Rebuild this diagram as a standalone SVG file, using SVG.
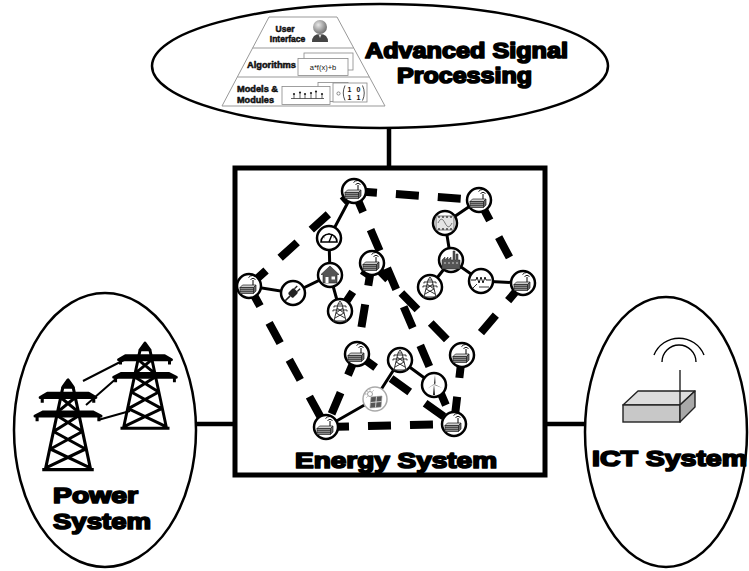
<svg xmlns="http://www.w3.org/2000/svg" width="749" height="571" viewBox="0 0 749 571">
  <style>
    .big { font-family: "Liberation Sans", Arial, sans-serif; font-weight: bold; font-size: 22px; fill: #000; stroke: #000; stroke-width: 1.7; stroke-linejoin: round; }
    .sm { font-family: "Liberation Sans", Arial, sans-serif; font-weight: bold; font-size: 8.5px; fill: #111; stroke: #111; stroke-width: 0.5; stroke-linejoin: round; }
    .frame { fill: #fff; stroke: #000; stroke-width: 2.5; }
    .link { stroke: #000; stroke-width: 4.5; fill: none; }
    .ict { stroke: #000; stroke-width: 8; stroke-dasharray: 23 19; fill: none; }
    .pwr { stroke: #000; stroke-width: 3; fill: none; }
    .nd { fill: #fff; stroke: #000; stroke-width: 2.5; }
    .card { fill: #fff; stroke: #888; stroke-width: 0.8; }
    .ic { fill: none; stroke: #333; stroke-width: 1; }
  </style>
  <defs>
    <radialGradient id="headGrad" cx="0.38" cy="0.35" r="0.7">
      <stop offset="0" stop-color="#e8e8e8"/>
      <stop offset="1" stop-color="#6a6a6a"/>
    </radialGradient>
    <!-- large lattice pylon, peak at origin -->
    <g id="pylon" fill="#000" stroke="#000" stroke-width="3" stroke-linejoin="round">
      <path d="M0 0 L-5 7 L5 7 Z"/>
      <path d="M-20 13 L20 13 L27 17 L-27 17 Z"/>
      <path d="M-24 31 L24 31 L32 35 L-32 35 Z"/>
      <path fill="none" d="M-5 7 L-22 87 M5 7 L22 87 M-25 87 H25
        M-7 17 L10 31 M7 17 L-10 31
        M-10 35 L14 50 M10 35 L-14 50
        M-14 50 L17 67 M14 50 L-17 67
        M-17 67 L21 85 M17 67 L-21 85
        M-25 17 v5 M25 17 v5 M-30 35 v5 M30 35 v5"/>
    </g>
    <!-- node icons, centred on origin -->
    <g id="router">
      <circle r="12" class="nd"/>
      <path d="M-9 1.5 L-6.5 -1 L7 -1 L4.5 1.5 Z" fill="#ccc" stroke="#222" stroke-width="0.7"/>
      <rect x="-9" y="1.5" width="13.5" height="6" fill="#8a8a8a" stroke="#222" stroke-width="0.7"/>
      <path d="M4.5 1.5 L7 -1 V5 L4.5 7.5 Z" fill="#666" stroke="#222" stroke-width="0.7"/>
      <path d="M-9 3.5 H4.5 M-9 5.5 H4.5" stroke="#222" stroke-width="0.6"/>
      <path d="M4 -1 V-6" stroke="#000" stroke-width="1"/>
      <path d="M1.5 -6.5 A3.5 3.5 0 0 1 6.5 -6.5 M-0.5 -8.5 A6 6 0 0 1 8.5 -8.5" fill="none" stroke="#000" stroke-width="0.9"/>
    </g>
    <g id="tower">
      <circle r="12" class="nd"/>
      <path class="ic" d="M0 -10 L-2 -7 H2 Z M-6 -5 H6 M-7 -1 H7 M-6 -5 v1.5 M6 -5 v1.5 M-7 -1 v1.5 M7 -1 v1.5
        M-2 -7 L-6 10 M2 -7 L6 10 M-3 -3 L4 2 M3 -3 L-4 2 M-4 2 L5 7 M4 2 L-5 7 M-7 10 H7"/>
    </g>
    <g id="gauge">
      <circle r="12" class="nd"/>
      <path d="M-8 4 A8 8 0 0 1 8 4 Z" fill="#fff" stroke="#000" stroke-width="1.6"/>
      <path d="M-5.5 -1 l1 0.8 M-3 -4 l0.6 1 M0 -5 v1.2 M3 -4 l-0.6 1 M5.5 -1 l-1 0.8" stroke="#000" stroke-width="0.8"/>
      <path d="M0 4 L3 -3.5" stroke="#000" stroke-width="1.4"/>
    </g>
    <g id="house">
      <circle r="12" class="nd"/>
      <path d="M-9 -0.5 L0 -9 L9 -0.5 H7 V8 H-7 V-0.5 Z" fill="#555" stroke="#222" stroke-width="0.6"/>
      <rect x="-4.5" y="2" width="3" height="6" fill="#fff"/>
      <rect x="1.5" y="1.5" width="3.5" height="3" fill="#fff"/>
    </g>
    <g id="plug">
      <circle r="12" class="nd"/>
      <g transform="rotate(45)">
        <rect x="-3.5" y="-4" width="7" height="8" rx="1.5" fill="#222"/>
        <path d="M-2 -4 V-8 M2 -4 V-8" stroke="#222" stroke-width="1.4"/>
        <path d="M0 4 V11" stroke="#222" stroke-width="1.6"/>
      </g>
    </g>
    <g id="sine">
      <circle r="12" class="nd"/>
      <rect x="-9" y="-7" width="18" height="14" fill="#e4e4e4" stroke="#444" stroke-width="0.7"/>
      <path d="M-7 -6 h2 M-3 -6 h2 M1 -6 h2 M5 -6 h2 M-7 6 h2 M-3 6 h2 M1 6 h2 M5 6 h2" stroke="#444" stroke-width="1.6"/>
      <path d="M-7 0 C-4.5 -5 -2.5 -5 0 0 S4.5 5 7 0" fill="none" stroke="#555" stroke-width="0.8"/>
    </g>
    <g id="factory">
      <circle r="12" class="nd"/>
      <path d="M-9 9 V0 L-6 -3 V0 L-3 -3 V0 L0 -3 V0 H2 V-9 H4 V0 H5 V-6 H7 V0 H9 V9 Z" fill="#555" stroke="#222" stroke-width="0.5"/>
      <path d="M-7 3 h2 M-3 3 h2 M1 3 h2 M5 3 h2" stroke="#ccc" stroke-width="1.2"/>
    </g>
    <g id="resistor">
      <circle r="12" class="nd"/>
      <path d="M-10 -1 H-5 L-4 -4 L-2 2 L0 -4 L2 2 L4 -4 L5 -1 H10" fill="none" stroke="#000" stroke-width="0.9"/>
      <path d="M-8 7 L-4 3 M-2 6 H8" fill="none" stroke="#000" stroke-width="0.8"/>
    </g>
    <g id="solar">
      <circle r="12" fill="#fff" stroke="#aaa" stroke-width="1.5"/>
      <circle cx="-5" cy="-5" r="2.5" fill="none" stroke="#777" stroke-width="0.7"/>
      <path d="M-5 -10 v1.5 M-10 -5 h1.5 M-8.5 -8.5 l1 1 M-1.5 -8.5 l-1 1 M-8.5 -1.5 l1 -1" stroke="#777" stroke-width="0.7"/>
      <path d="M-4 -2 L7 -3 L6 8 L-5 9 Z" fill="#555" stroke="#999" stroke-width="0.6"/>
      <path d="M1.5 -2.5 L0.5 8.5 M-4.5 3.5 L6.5 2.5" stroke="#ddd" stroke-width="0.9"/>
    </g>
    <g id="wind">
      <circle r="12" class="nd"/>
      <path d="M0 -1 L-1 10 H1 Z" fill="#222"/>
      <path d="M0 -1 L1 -10 L1.5 -1.5 Z M0 -1 L8 3 L0.8 0 Z M0 -1 L-7 4 L-0.5 -0.2 Z" fill="#222"/>
    </g>
  </defs>

  <!-- outer systems -->
  <g id="asp">
    <ellipse cx="380" cy="66" rx="228" ry="62" class="frame"/>
    <g id="asp-pyramid">
      <path d="M269 17 H337 L385 106 H222 Z M252.6 48 H353.7 M237.3 77 H369.4" fill="#fff" stroke="#999" stroke-width="1"/>
      <text class="sm" x="285" y="32" text-anchor="middle">User</text>
      <text class="sm" x="287.5" y="41.5" text-anchor="middle" font-size="7.5">Interface</text>
      <circle cx="320" cy="27" r="7" fill="url(#headGrad)"/>
      <path d="M312 42 Q312 34 320 34 Q328 34 328 42 Z" fill="#444"/>
      <path d="M318.5 34.5 L320 38 L321.5 34.5 Z" fill="#ddd"/>
      <text class="sm" x="247" y="68" textLength="49" lengthAdjust="spacingAndGlyphs">Algorithms</text>
      <rect class="card" x="304" y="53" width="49" height="17"/>
      <rect class="card" x="298" y="58.5" width="50" height="17"/>
      <text x="323" y="70" text-anchor="middle" font-family="Liberation Sans, Arial, sans-serif" font-size="7.5" fill="#111">a*f(x)+b</text>
      <text class="sm" x="237" y="92" textLength="41" lengthAdjust="spacingAndGlyphs">Models &amp;</text>
      <text class="sm" x="237" y="103" textLength="37" lengthAdjust="spacingAndGlyphs">Modules</text>
      <rect class="card" x="318" y="82.5" width="30" height="19"/>
      <rect class="card" x="282" y="86.5" width="48" height="18"/>
      <path d="M291 98.5 H324 M294 98.5 V94 M300 98.5 V92.5 M305 98.5 V94 M311 98.5 V93 M316 98.5 V91.5 M322 98.5 V94" stroke="#222" stroke-width="0.7"/>
      <g fill="#222">
        <circle cx="294" cy="94" r="1.1"/><circle cx="300" cy="92.5" r="1.1"/><circle cx="305" cy="94" r="1.1"/>
        <circle cx="311" cy="93" r="1.1"/><circle cx="316" cy="91.5" r="1.1"/><circle cx="322" cy="94" r="1.1"/>
      </g>
      <rect class="card" x="333" y="83" width="34" height="19"/>
      <circle cx="338.5" cy="93.5" r="1.6" fill="none" stroke="#444" stroke-width="0.6"/>
      <path d="M345 85.5 Q341.5 93 345 100.5 M362.5 85.5 Q366 93 362.5 100.5" fill="none" stroke="#222" stroke-width="0.8"/>
      <g font-family="Liberation Sans, Arial, sans-serif" font-weight="bold" font-size="7" fill="#111">
        <text x="347.5" y="91.5">1</text><text x="356.5" y="91.5">0</text>
        <text x="347.5" y="99.5">1</text><text x="356.5" y="99.5">1</text>
      </g>
    </g>
    <text class="big" x="365" y="58" font-size="20.5" textLength="203" lengthAdjust="spacingAndGlyphs">Advanced Signal</text>
    <text class="big" x="397" y="82.5" font-size="20.5" textLength="135" lengthAdjust="spacingAndGlyphs">Processing</text>
  </g>

  <g id="power-system">
    <ellipse cx="105" cy="430" rx="91" ry="137" class="frame"/>
    <path d="M83 381 L124 360 M86 405 L118 377 M98 420 L130 411" stroke="#000" stroke-width="2" fill="none"/>
    <use href="#pylon" transform="translate(145,343) scale(0.98)"/>
    <use href="#pylon" transform="translate(68,380) scale(1.03)"/>
    <text class="big" x="53" y="503" textLength="85" lengthAdjust="spacingAndGlyphs">Power</text>
    <text class="big" x="53" y="529" textLength="98" lengthAdjust="spacingAndGlyphs">System</text>
  </g>

  <g id="ict-system">
    <ellipse cx="666" cy="432" rx="81" ry="135" class="frame"/>
    <path d="M662 362 A17 17 0 0 1 696 362 M654 355 A27 27 0 0 1 704 355" fill="none" stroke="#000" stroke-width="1.4"/>
    <path d="M623 405 L638 391 H695 L680 405 Z" fill="#ddd" stroke="#222" stroke-width="1.4" stroke-linejoin="round"/>
    <rect x="623" y="405" width="57" height="17" fill="#c8c8c8" stroke="#222" stroke-width="1.4"/>
    <path d="M680 405 L695 391 V407 L680 422 Z" fill="#a8a8a8" stroke="#222" stroke-width="1.4" stroke-linejoin="round"/>
    <path d="M680 370 V405" stroke="#222" stroke-width="1.4"/>
    <text class="big" x="592" y="466" textLength="155" lengthAdjust="spacingAndGlyphs">ICT System</text>
  </g>

  <g id="energy-system">
    <rect x="235" y="168" width="310" height="307" fill="#fff" stroke="#000" stroke-width="5"/>
    <text class="big" x="295" y="468" textLength="202" lengthAdjust="spacingAndGlyphs">Energy System</text>
  </g>

  <!-- links between the systems and inside the energy grid -->
  <g id="connectors">
    <path class="link" d="M389 128 V166 M197 424 H233 M547 424 H585"/>
    <g id="ict-links">
      <line class="ict" x1="249" y1="286" x2="354" y2="191"/>
      <line class="ict" x1="354" y1="191" x2="479" y2="200"/>
      <line class="ict" x1="354" y1="191" x2="454" y2="424"/>
      <line class="ict" x1="372" y1="263" x2="462" y2="355"/>
      <line class="ict" x1="479" y1="200" x2="523" y2="283"/>
      <line class="ict" x1="523" y1="283" x2="462" y2="355"/>
      <line class="ict" x1="249" y1="286" x2="326" y2="427"/>
      <line class="ict" x1="326" y1="427" x2="454" y2="424"/>
      <line class="ict" x1="357" y1="354" x2="454" y2="424"/>
      <line class="ict" x1="372" y1="263" x2="357" y2="354"/>
      <line class="ict" x1="357" y1="354" x2="326" y2="427"/>
      <line class="ict" x1="462" y1="355" x2="454" y2="424"/>
      <line class="ict" x1="340" y1="311" x2="372" y2="263"/>
    </g>
    <g id="power-links">
      <path class="pwr" d="M354 191 L329 238 L330 275 L293 293 L249 286 M330 275 L340 311"/>
      <path class="pwr" d="M479 200 L445 223 L451 260 L481 281 L523 283 M451 260 L430 287"/>
      <path class="pwr" d="M400 360 L375 399 L326 427 M400 360 L434 385"/>
    </g>
  </g>

  <!-- grid components -->
  <g id="n-router-1" transform="translate(354,191)"><use href="#router"/></g>
  <g id="n-gauge" transform="translate(329,238)"><use href="#gauge"/></g>
  <g id="n-house" transform="translate(330,275)"><use href="#house"/></g>
  <g id="n-router-2" transform="translate(249,286)"><use href="#router"/></g>
  <g id="n-plug" transform="translate(293,293)"><use href="#plug"/></g>
  <g id="n-router-3" transform="translate(372,263)"><use href="#router"/></g>
  <g id="n-tower-1" transform="translate(340,311)"><use href="#tower"/></g>
  <g id="n-router-4" transform="translate(479,200)"><use href="#router"/></g>
  <g id="n-inverter" transform="translate(445,223)"><use href="#sine"/></g>
  <g id="n-factory" transform="translate(451,260)"><use href="#factory"/></g>
  <g id="n-load" transform="translate(481,281)"><use href="#resistor"/></g>
  <g id="n-router-5" transform="translate(523,283)"><use href="#router"/></g>
  <g id="n-tower-2" transform="translate(430,287)"><use href="#tower"/></g>
  <g id="n-router-6" transform="translate(357,354)"><use href="#router"/></g>
  <g id="n-solar" transform="translate(375,399)"><use href="#solar"/></g>
  <g id="n-router-7" transform="translate(326,427)"><use href="#router"/></g>
  <g id="n-tower-3" transform="translate(400,360)"><use href="#tower"/></g>
  <g id="n-router-8" transform="translate(462,355)"><use href="#router"/></g>
  <g id="n-wind" transform="translate(434,385)"><use href="#wind"/></g>
  <g id="n-router-9" transform="translate(454,424)"><use href="#router"/></g>
</svg>
